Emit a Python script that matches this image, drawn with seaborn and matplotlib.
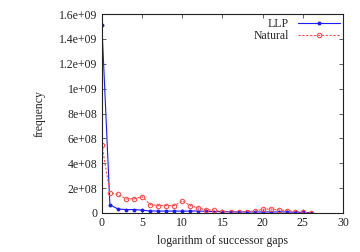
import matplotlib
matplotlib.use("Agg")
import matplotlib.pyplot as plt
import seaborn as sns
import pandas as pd
from matplotlib.ticker import FixedLocator, FixedFormatter

sns.set_theme(style="ticks")
plt.rcParams['font.family'] = ['Liberation Serif', 'DejaVu Serif']

gaps = list(range(27))
llp = [1.513e9, 6.5e7, 3.2e7, 2.7e7, 2.7e7, 2.2e7, 1.6e7, 1.5e7, 1.5e7, 1.5e7,
       1.5e7, 1.5e7, 1.6e7, 1.2e7, 1.1e7, 1.0e7, 9e6, 8e6, 8e6, 8e6,
       8e6, 8e6, 8e6, 8e6, 6e6, 4e6, 2e6]
natural = [5.5e8, 1.64e8, 1.5e8, 1.13e8, 1.13e8, 1.32e8, 6.7e7, 5.9e7, 5.9e7, 5.9e7,
           9.7e7, 5.9e7, 4.0e7, 2.4e7, 2.2e7, 1.1e7, 8e6, 6e6, 1.1e7, 1.3e7,
           3.0e7, 3.2e7, 2.4e7, 1.9e7, 1.1e7, 5e6, 1e6]
xticks = [0, 5, 10, 15, 20, 25, 30]
yticks = [0, 2e8, 4e8, 6e8, 8e8, 1e9, 1.2e9, 1.4e9, 1.6e9]
ylabels = ["0", "2e+08", "4e+08", "6e+08", "8e+08", "1e+09", "1.2e+09", "1.4e+09", "1.6e+09"]

df = pd.DataFrame({"gap": gaps * 2, "freq": llp + natural,
                   "series": ["LLP"] * len(gaps) + ["Natural"] * len(gaps)})

fig = plt.figure(figsize=(3.6, 2.52), dpi=100)
ax = fig.add_axes([0.283, 0.155, 0.67, 0.789])

sns.lineplot(data=df[df.series == "LLP"], x="gap", y="freq", ax=ax, color="#1a1aff",
             marker="o", markersize=2.8, markeredgewidth=0, linewidth=0.8, label="LLP")
sns.lineplot(data=df[df.series == "Natural"], x="gap", y="freq", ax=ax, color="#ff4d4d",
             marker="o", markersize=3.2, markerfacecolor="none", markeredgecolor="#ff4d4d",
             markeredgewidth=0.8, linewidth=0.8, linestyle=(0, (2, 1.5)), label="Natural")

ax.set_xlim(0, 30)
ax.set_ylim(0, 1.6e9)
ax.xaxis.set_major_locator(FixedLocator(xticks))
ax.yaxis.set_major_locator(FixedLocator(yticks))
ax.yaxis.set_major_formatter(FixedFormatter(ylabels))
ax.tick_params(direction="in", length=3, width=0.5, labelsize=8.5, pad=3,
               top=True, right=True, colors="#222222")
for s in ax.spines.values():
    s.set_linewidth(0.8)
    s.set_color("#222222")
ax.set_xlabel("logarithm of successor gaps", fontsize=8.5, labelpad=4)
ax.set_ylabel("frequency", fontsize=8.5, labelpad=10)

leg = ax.legend(loc="upper right", frameon=False, markerfirst=False, fontsize=8.5,
                handlelength=3.5, borderaxespad=0.0, borderpad=0.3, labelspacing=0.05,
                handletextpad=0.8)

fig.savefig("out.png", dpi=100)
